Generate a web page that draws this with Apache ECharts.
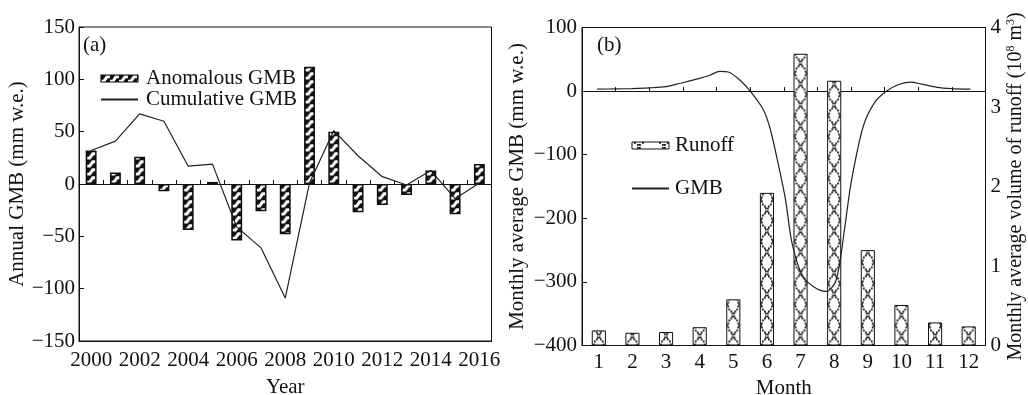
<!DOCTYPE html>
<html><head><meta charset="utf-8">
<script src="https://cdn.jsdelivr.net/npm/echarts@6/dist/echarts.min.js"></script>
<style>html,body{margin:0;padding:0;background:#fff}#c{width:1028px;height:395px}</style>
</head><body><div id="c"></div>
<script>
// ---- data (a) ----
const years = ['2000','2001','2002','2003','2004','2005','2006','2007','2008','2009','2010','2011','2012','2013','2014','2015','2016'];
const anomalousGMB = [32, 11, 26, -7, -44, 2, -54, -26, -48, 112, 50, -27, -20, -10.5, 13, -29, 19];
const cumulativeGMB = [32, 41, 67, 60, 17, 19, -41, -61, -109, 1, 51, 27, 7, -1, 13, -14, 1];
// ---- data (b) ----
const months = ['1','2','3','4','5','6','7','8','9','10','11','12'];
const runoff = [0.19, 0.16, 0.17, 0.23, 0.58, 1.92, 3.67, 3.33, 1.2, 0.51, 0.29, 0.24];
const gmbMonth = [0.95, 1.5, 2, 2.5, 3, 3.4, 4, 4.3, 4.6, 4.85, 5.2, 5.5, 5.9, 6.1, 6.35, 6.55, 6.75, 7.05, 7.4, 7.76, 8.06, 8.3, 8.5, 8.86, 9.2, 9.56, 9.9, 10.26, 10.6, 11.06, 11.5, 12.05];
const gmbValue = [3, 3.5, 4, 5, 7, 12, 20, 25, 31, 30, 17, 0, -30, -60, -118, -170, -240, -290, -308, -315, -297, -220, -145, -56, -18, 0, 10, 14, 11, 6, 4, 3];

const F = 'Liberation Serif, Times New Roman, serif';
const FS = 21;
const INK = '#111';
const G0 = {left: 79, top: 27, width: 412.5, height: 314};
const G1 = {left: 582, top: 27.5, width: 403.5, height: 318};

function hatchTile(w, cx){
  const c = document.createElement('canvas'); c.width = w; c.height = 8;
  const g = c.getContext('2d');
  g.fillStyle = INK; g.fillRect(0,0,w,8);
  g.strokeStyle = '#fff'; g.lineWidth = 2.9; g.lineJoin = 'miter';
  g.beginPath(); g.moveTo(cx+4.4,1.8); g.lineTo(cx+1.5,1.8); g.lineTo(cx-1.5,6.1); g.lineTo(cx-4.4,6.1); g.stroke();
  return c;
}
function crossTile(w, x0, x1, h){
  const c = document.createElement('canvas'); c.width = w; c.height = h;
  const g = c.getContext('2d');
  g.fillStyle = '#fff'; g.fillRect(0,0,w,h);
  g.fillStyle = INK;
  const N = Math.max(3, Math.round(h / 2.3));
  for (let t = 0; t < N; t++) {
    const y = h * t / N;
    const xa = x0 + (x1 - x0) * t / N, xb = x1 - (x1 - x0) * t / N;
    g.fillRect(Math.round(xa) - 1, Math.round(y), 1.8, 1.8);
    g.fillRect(Math.round(xb) - 1, Math.round(y), 1.8, 1.8);
  }
  return c;
}
const hatch = {image: hatchTile(24, 12.1), repeat: 'repeat', x: G0.left, y: 0, scaleX: (G0.width/years.length)/24};
const cross = {image: crossTile(34, 10.6, 23.4, 21), repeat: 'repeat', x: G1.left, y: G1.top + G1.height, scaleX: (G1.width/months.length)/34};
const hatchLeg = {image: hatchTile(9, 4.5), repeat: 'repeat'};
const crossLeg = {image: crossTile(25, 3, 11, 7), repeat: 'repeat'};

const minus = v => String(v).replace('-', '\u2212');
const lbl = {fontSize: FS, fontFamily: F, color: INK};
const axLine = {show: true, onZero: false, lineStyle: {color: INK, width: 1}};
const legText = {fontSize: FS, fontFamily: F, color: INK, lineHeight: 21};
const gridBase = {show: true, borderColor: INK, borderWidth: 1, containLabel: false, outerBoundsMode: 'none'};

const chart = echarts.init(document.getElementById('c'), null, {renderer: 'canvas'});
chart.setOption({
  animation: false,
  backgroundColor: '#fff',
  title: [
    {text: '(a)', left: 83, top: 35, padding: 0, textStyle: {fontSize: FS, fontWeight: 'normal', fontFamily: F, color: INK}},
    {text: '(b)', left: 597, top: 35, padding: 0, textStyle: {fontSize: FS, fontWeight: 'normal', fontFamily: F, color: INK}}
  ],
  legend: [
    {data: [{name: 'Anomalous GMB', icon: 'rect', itemStyle: {color: hatchLeg, borderColor: INK, borderWidth: 1.2}},
            {name: 'Cumulative GMB', itemStyle: {opacity: 0}}],
     orient: 'vertical', left: 100, top: 68,
     itemWidth: 37, itemHeight: 7, itemGap: 0, padding: 0, selectedMode: false,
     textStyle: Object.assign({padding: [0,0,0,3]}, legText)},
    {data: [{name: 'Runoff', icon: 'rect', itemStyle: {color: crossLeg, borderColor: INK, borderWidth: 1}},
            {name: 'GMB', itemStyle: {opacity: 0}}],
     orient: 'vertical', left: 631, top: 135,
     itemWidth: 37, itemHeight: 7, itemGap: 22, padding: 0, selectedMode: false,
     textStyle: Object.assign({padding: [0,0,0,1]}, legText)}
  ],
  grid: [Object.assign({}, gridBase, G0), Object.assign({}, gridBase, G1)],
  xAxis: [
    {gridIndex: 0, type: 'category', data: years, position: 'bottom', axisLine: axLine, axisTick: {show: false},
     axisLabel: Object.assign({interval: 1, margin: 9}, lbl),
     name: 'Year', nameLocation: 'middle', nameGap: 36, nameTextStyle: lbl},
    {gridIndex: 0, type: 'category', data: years, position: 'bottom',
     axisLine: {show: true, onZero: true, onZeroAxisIndex: 0, lineStyle: {color: INK, width: 1}},
     axisTick: {show: true, inside: true, length: 4, interval: 0, lineStyle: {color: INK}}, axisLabel: {show: false}},
    {gridIndex: 1, type: 'category', data: months, position: 'bottom', axisLine: axLine, axisTick: {show: false},
     axisLabel: Object.assign({interval: 0, margin: 6}, lbl),
     name: 'Month', nameLocation: 'middle', nameGap: 32, nameTextStyle: lbl},
    {gridIndex: 1, type: 'category', data: months, position: 'bottom',
     axisLine: {show: true, onZero: true, onZeroAxisIndex: 1, lineStyle: {color: INK, width: 1}},
     axisTick: {show: true, inside: true, length: 4, interval: 0, lineStyle: {color: INK}}, axisLabel: {show: false}},
    {gridIndex: 1, type: 'value', min: 0.5, max: 12.5, show: false, axisLine: {onZero: false}}
  ],
  yAxis: [
    {gridIndex: 0, type: 'value', min: -150, max: 150, interval: 50, position: 'left', axisLine: axLine,
     axisTick: {show: true, inside: true, length: 5, lineStyle: {color: INK}}, splitLine: {show: false},
     axisLabel: Object.assign({margin: 4, formatter: minus}, lbl),
     name: 'Annual GMB (mm w.e.)', nameLocation: 'middle', nameRotate: 90, nameGap: 49, nameTextStyle: lbl},
    {gridIndex: 1, type: 'value', min: -400, max: 100, interval: 100, position: 'left', axisLine: axLine,
     axisTick: {show: true, inside: true, length: 5, lineStyle: {color: INK}}, splitLine: {show: false},
     axisLabel: Object.assign({margin: 5, formatter: minus}, lbl),
     name: 'Monthly average GMB (mm w.e.)', nameLocation: 'middle', nameRotate: 90, nameGap: 54, nameTextStyle: lbl},
    {gridIndex: 1, type: 'value', min: 0, max: 4, interval: 1, position: 'right', axisLine: axLine,
     axisTick: {show: false}, splitLine: {show: false},
     axisLabel: Object.assign({margin: 5}, lbl),
     name: '{a|Monthly average volume of runoff (10}{s|8}{a| m}{s|3}{a|)}', nameLocation: 'middle', nameRotate: 90, nameGap: 19,
     nameTextStyle: {fontSize: FS, fontFamily: F, color: INK,
       rich: {a: {fontSize: 20, fontFamily: F, color: INK, lineHeight: 22}, s: {fontSize: 12, fontFamily: F, color: INK, verticalAlign: 'top', lineHeight: 22}}}}
  ],
  series: [
    {type: 'bar', name: 'Anomalous GMB', xAxisIndex: 0, yAxisIndex: 0, data: anomalousGMB, barWidth: '45%',
     itemStyle: {color: hatch, borderColor: INK, borderWidth: 1.5}},
    {type: 'line', name: 'Cumulative GMB', xAxisIndex: 0, yAxisIndex: 0, data: cumulativeGMB, symbol: 'none', z: 5,
     itemStyle: {color: '#222'}, lineStyle: {color: '#222', width: 1.2}},
    {type: 'bar', name: 'Runoff', xAxisIndex: 2, yAxisIndex: 2, data: runoff, barWidth: '42%',
     itemStyle: {color: cross, borderColor: INK, borderWidth: 1}},
    {type: 'line', name: 'GMB', xAxisIndex: 4, yAxisIndex: 1, data: gmbMonth.map((m, i) => [m, gmbValue[i]]),
     symbol: 'none', smooth: 0.3, z: 5, itemStyle: {color: '#222'}, lineStyle: {color: '#222', width: 1.2}}
  ]
});
</script></body></html>
